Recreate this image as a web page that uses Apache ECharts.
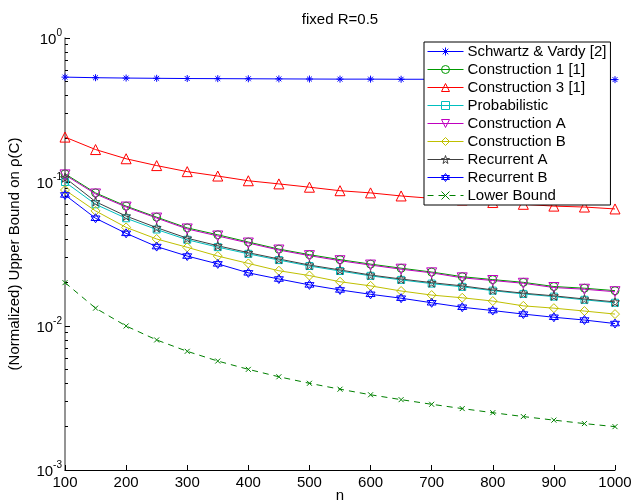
<!DOCTYPE html>
<html>
<head>
<meta charset="utf-8">
<script src="https://cdn.jsdelivr.net/npm/echarts@6/dist/echarts.min.js"></script>
<style>html,body{margin:0;padding:0;background:#fff;}#c{width:633px;height:502px;}</style>
</head>
<body>
<div id="c"></div>
<script>
const n = [100,150,200,250,300,350,400,450,500,550,600,650,700,750,800,850,900,950,1000];
const schwartz = [0.535,0.530,0.527,0.525,0.523,0.522,0.521,0.520,0.519,0.518,0.518,0.517,0.517,0.516,0.516,0.515,0.515,0.515,0.514];
const constr1 = [0.114,0.084,0.068,0.057,0.048,0.043,0.0383,0.0342,0.0313,0.0289,0.0269,0.0252,0.0237,0.0220,0.0210,0.0201,0.0188,0.0183,0.0176];
const constr3 = [0.205,0.168,0.145,0.130,0.118,0.110,0.102,0.097,0.092,0.087,0.084,0.080,0.077,0.075,0.072,0.070,0.068,0.067,0.065];
const prob = [0.100,0.070,0.056,0.0468,0.0397,0.0353,0.0317,0.0287,0.0261,0.0241,0.0223,0.0209,0.0197,0.0187,0.0176,0.0167,0.0160,0.0152,0.0145];
const constrA = [0.112,0.0826,0.067,0.0562,0.0472,0.0422,0.0377,0.0337,0.0308,0.0284,0.0265,0.0248,0.0234,0.0216,0.0207,0.0198,0.0185,0.0180,0.0173];
const constrB = [0.088,0.063,0.0484,0.0402,0.0352,0.0306,0.0272,0.0242,0.0224,0.0203,0.0190,0.0175,0.0164,0.0157,0.0149,0.0138,0.0133,0.0127,0.0121];
const recA = [0.107,0.073,0.058,0.0482,0.0407,0.0361,0.0323,0.0292,0.0265,0.0245,0.0226,0.0212,0.0200,0.0190,0.0178,0.0169,0.0162,0.0154,0.0147];
const recB = [0.0813,0.056,0.044,0.0356,0.0306,0.027,0.0234,0.0212,0.0193,0.0178,0.0166,0.0156,0.0145,0.0135,0.0128,0.0121,0.0115,0.0110,0.0104];
const lower = [0.02,0.0133,0.01,0.008,0.00667,0.00571,0.005,0.00444,0.004,0.00364,0.00333,0.00308,0.00286,0.00267,0.0025,0.00235,0.00222,0.0021,0.002];
const xTicks = [100,200,300,400,500,600,700,800,900,1000];
const yMinorTicks = [0.002,0.003,0.004,0.005,0.006,0.007,0.008,0.009,0.02,0.03,0.04,0.05,0.06,0.07,0.08,0.09,0.2,0.3,0.4,0.5,0.6,0.7,0.8,0.9];

const FONT = 'Liberation Sans, Arial, sans-serif';
const FS = 15;
const SYM = {
  asterisk: 'path://M0,5 L10,5 M5,0 L5,10 M1.5,1.5 L8.5,8.5 M1.5,8.5 L8.5,1.5',
  triDown: 'path://M0,0 L10,0 L5,8.66 Z',
  triUp: 'path://M5,0 L10,8.66 L0,8.66 Z',
  square: 'path://M0,0 L10,0 L10,10 L0,10 Z',
  penta: 'path://M5,0 L6.18,3.62 L10,3.62 L6.91,5.86 L8.09,9.5 L5,7.26 L1.91,9.5 L3.09,5.86 L0,3.62 L3.82,3.62 Z',
  hexa: 'path://M5,0 L9.33,7.5 L0.67,7.5 Z M5,10 L0.67,2.5 L9.33,2.5 Z',
  cross: 'path://M0,0 L10,10 M0,10 L10,0'
};
function mk(name, data, color, symbol, size, dashed) {
  return {
    name: name, type: 'line', data: n.map((x, i) => [x, data[i]]),
    symbol: symbol, symbolSize: size, showSymbol: true, color: color,
    lineStyle: { color: color, width: 1, type: dashed ? [6, 5] : 'solid' },
    itemStyle: { color: 'none', borderColor: color, borderWidth: 1 },
    emphasis: { disabled: true }, animation: false, z: 3
  };
}
const series = [
  mk('Schwartz & Vardy [2]', schwartz, '#0000ff', SYM.asterisk, 7),
  mk('Construction 1 [1]', constr1, '#009900', 'circle', 8),
  mk('Construction 3 [1]', constr3, '#ff0000', SYM.triUp, 10),
  mk('Probabilistic', prob, '#00bfbf', SYM.square, 7),
  mk('Construction A', constrA, '#bf00bf', SYM.triDown, 10),
  mk('Construction B', constrB, '#bfbf00', 'diamond', 9),
  mk('Recurrent A', recA, '#404040', SYM.penta, 9),
  mk('Recurrent B', recB, '#0000ff', SYM.hexa, 9),
  mk('Lower Bound', lower, '#008000', SYM.cross, 5, true)
];

const chart = echarts.init(document.getElementById('c'), null, { renderer: 'canvas' });
chart.setOption({
  animation: false,
  backgroundColor: '#fff',
  textStyle: { fontFamily: FONT },
  title: { text: 'fixed R=0.5', left: 340, top: 12, textAlign: 'center', padding: 0,
    textStyle: { fontSize: FS, fontWeight: 'normal', color: '#000', fontFamily: FONT } },
  grid: { left: 65, right: 18, top: 38, bottom: 32, containLabel: false, outerBoundsMode: 'none' },
  legend: {
    left: 424, top: 42, orient: 'vertical',
    itemWidth: 36, itemHeight: 10, itemGap: 3,
    padding: [2, 4, 2, 3],
    backgroundColor: '#fff', borderColor: '#000', borderWidth: 1,
    lineStyle: { width: 1 },
    itemStyle: { borderWidth: 1 },
    textStyle: { fontSize: FS, color: '#000', fontFamily: FONT, padding: [0, 0, 0, -1] },
    data: series.map(s => s.name), selectedMode: false
  },
  xAxis: {
    type: 'value', min: 100, max: 1000, interval: 100,
    name: 'n', nameLocation: 'middle', nameGap: 18, nameMoveOverlap: false,
    nameTextStyle: { fontSize: FS, color: '#000', fontFamily: FONT },
    axisLine: { lineStyle: { color: '#000', width: 1 } },
    axisTick: { inside: true, length: 5, lineStyle: { color: '#000' } },
    axisLabel: { fontSize: FS, color: '#000', margin: 5, fontFamily: FONT, formatter: v => String(v) },
    splitLine: { show: false }
  },
  yAxis: [{
    type: 'log', logBase: 10, min: 0.001, max: 1, interval: 1,
    name: '(Normalized) Upper Bound on \u03c1(C)', nameLocation: 'middle', nameGap: 43, nameMoveOverlap: false,
    nameTextStyle: { fontSize: FS, color: '#000', fontFamily: FONT },
    axisLine: { lineStyle: { color: '#707070', width: 1.5 } },
    axisTick: { inside: true, length: 5, lineStyle: { color: '#000' } },
    axisLabel: {
      margin: 3,
      formatter: v => '{b|10}{s|' + Math.round(Math.log10(v)) + '}',
      rich: {
        b: { fontSize: FS, color: '#000', fontFamily: FONT, lineHeight: 19, verticalAlign: 'bottom' },
        s: { fontSize: 10, color: '#000', fontFamily: FONT, lineHeight: 10, verticalAlign: 'top' }
      }
    },
    splitLine: { show: false }
  }, {
    type: 'log', logBase: 10, min: 0.001, max: 1, position: 'left',
    axisLine: { show: false },
    axisTick: { show: true, inside: true, length: 3, customValues: yMinorTicks, lineStyle: { color: '#000' } },
    axisLabel: { show: false },
    splitLine: { show: false }
  }],
  series: series
});
</script>
</body>
</html>
